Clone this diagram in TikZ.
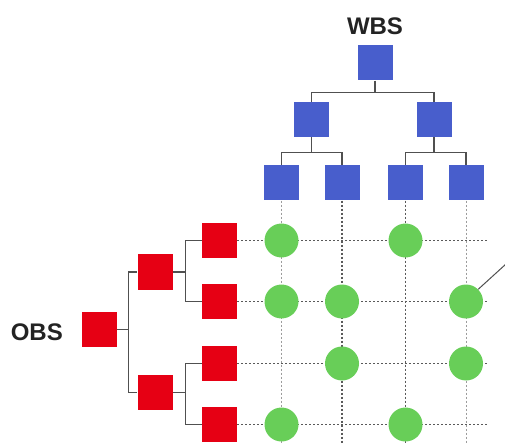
\documentclass[tikz,border=0pt]{standalone}
\usepackage{fontspec}
\setmainfont{Liberation Sans}
\begin{document}
\begin{tikzpicture}[x=1pt,y=-1pt,
  wbsbox/.style={draw=none,fill=wbsblue,minimum width=35pt,minimum height=35pt,inner sep=0pt},
  obsbox/.style={draw=none,fill=obsred,minimum width=35pt,minimum height=35pt,inner sep=0pt},
  cell/.style={circle,fill=cellgreen,minimum size=34pt,inner sep=0pt},
  branch/.style={draw=treegray,line width=1.3pt},
  gridline/.style={draw=gridgray,line width=1.1pt,dash pattern=on 2pt off 2pt},
  gridfaint/.style={draw=gridgray!60,line width=1pt,dash pattern=on 2pt off 2pt},
  title/.style={font=\bfseries\fontsize{24}{24}\selectfont,text=titlegray,inner sep=0pt}]
\definecolor{wbsblue}{RGB}{72,94,204}
\definecolor{obsred}{RGB}{230,0,20}
\definecolor{cellgreen}{RGB}{104,206,88}
\definecolor{treegray}{RGB}{80,80,80}
\definecolor{gridgray}{RGB}{90,90,90}
\definecolor{titlegray}{RGB}{35,35,35}
\useasboundingbox (0,0) rectangle (505,443);

% WBS tree
\node[title] (wbs) at (375,26.5) {WBS};
\node[wbsbox] (w0) at (375,63) {};
\node[wbsbox] (w1) at (311.5,119.5) {};
\node[wbsbox] (w2) at (434,119.5) {};
\node[wbsbox] (w11) at (281.5,183) {};
\node[wbsbox] (w12) at (342,183) {};
\node[wbsbox] (w21) at (405.5,183) {};
\node[wbsbox] (w22) at (466,183) {};

% OBS tree
\node[title,anchor=east] (obs) at (63,332.5) {OBS};
\node[obsbox] (o0) at (99.5,329.5) {};
\node[obsbox] (o1) at (155,272) {};
\node[obsbox] (o2) at (155,392.5) {};
\node[obsbox] (o11) at (219.5,240.5) {};
\node[obsbox] (o12) at (219.5,301.5) {};
\node[obsbox] (o21) at (219.5,363.5) {};
\node[obsbox] (o22) at (219.5,424.5) {};

% grid end points
\foreach \c/\x in {1/281.5,2/342,3/405.5,4/466}
  \coordinate (cb\c) at (\x,443);
\foreach \r/\y in {1/240.5,2/301.5,3/363.5,4/424.5}
  \coordinate (re\r) at (488,\y);

% dotted grid
\draw[gridfaint] (w11.south) -- (cb1);
\draw[gridline] (w12.south) -- (cb2);
\draw[gridline] (w21.south) -- (cb3);
\draw[gridfaint] (w22.south) -- (cb4);
\draw[gridline] (o11.east) -- (re1);
\draw[gridline] (o12.east) -- (re2);
\draw[gridline] (o21.east) -- (re3);
\draw[gridline] (o22.east) -- (re4);

% WBS branches
\draw[branch] (w0.south) -- ++(0,12) -| (w1.north);
\draw[branch] (w0.south) ++(0,12) -| (w2.north);
\draw[branch] (w1.south) -- ++(0,15) -| (w11.north);
\draw[branch] (w1.south) ++(0,15) -| (w12.north);
\draw[branch] (w2.south) -- ++(0,15) -| (w21.north);
\draw[branch] (w2.south) ++(0,15) -| (w22.north);

% OBS branches
\draw[branch] (o0.east) -- ++(11,0) |- (o1.west);
\draw[branch] (o0.east) ++(11,0) |- (o2.west);
\draw[branch] (o1.east) -- ++(13,0) |- (o11.west);
\draw[branch] (o1.east) ++(13,0) |- (o12.west);
\draw[branch] (o2.east) -- ++(13,0) |- (o21.west);
\draw[branch] (o2.east) ++(13,0) |- (o22.west);

% assignment cells
\node[cell] (c11) at (281.5,240.5) {};
\node[cell] (c13) at (405.5,240.5) {};
\node[cell] (c21) at (281.5,301.5) {};
\node[cell] (c22) at (342,301.5) {};
\node[cell] (c24) at (466,301.5) {};
\node[cell] (c32) at (342,363.5) {};
\node[cell] (c34) at (466,363.5) {};
\node[cell] (c41) at (281.5,424.5) {};
\node[cell] (c43) at (405.5,424.5) {};

% pointer leaving the frame
\coordinate (ptr) at (506,264);
\draw[draw=treegray,line width=1pt] (c24.north east) -- (ptr);
\end{tikzpicture}
\end{document}
